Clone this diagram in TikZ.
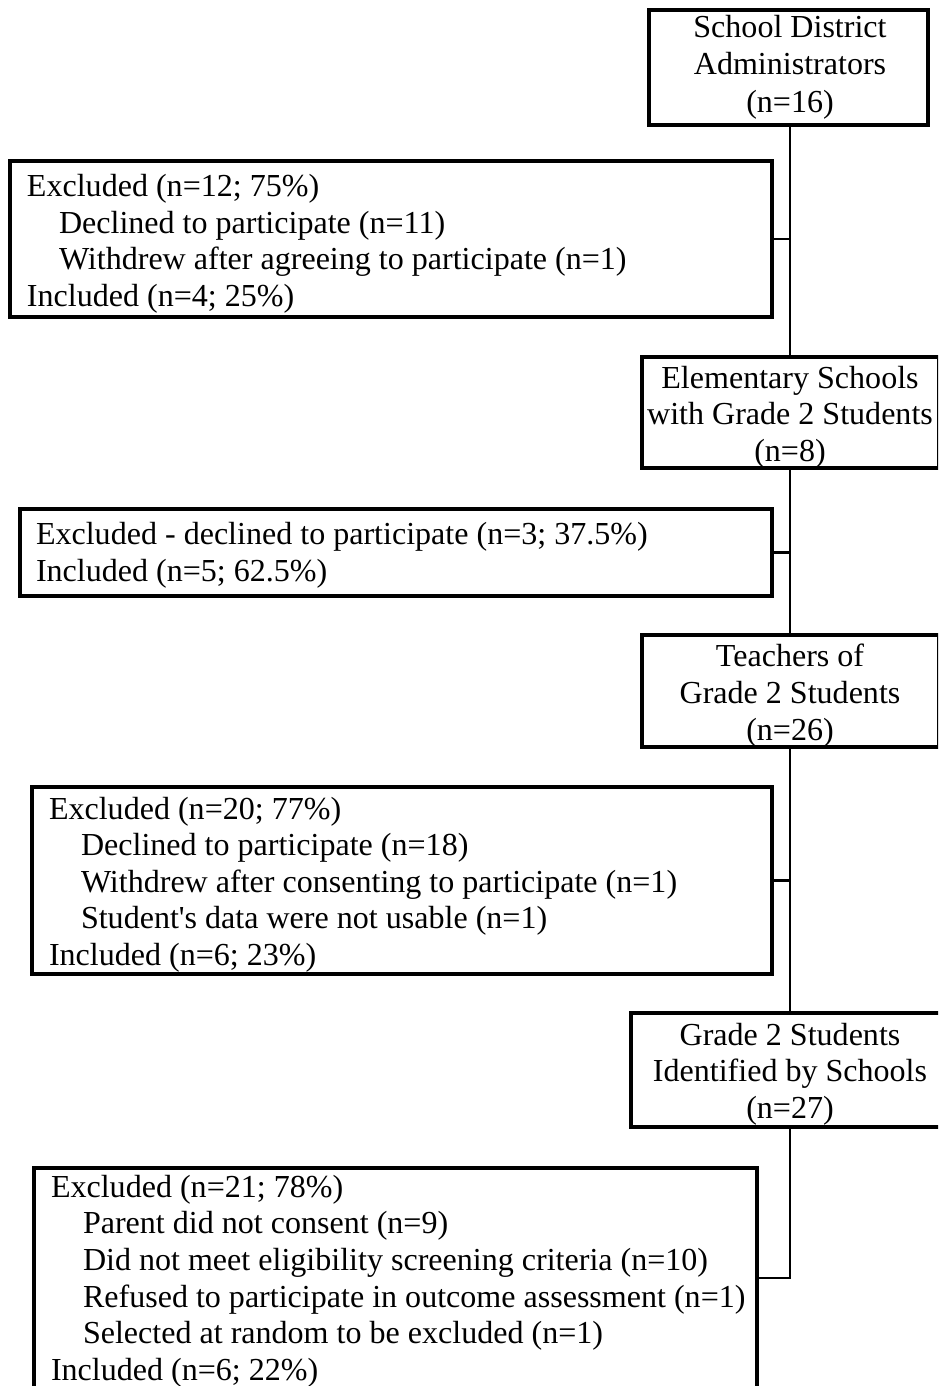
\documentclass[tikz,border=0pt]{standalone}
\usepackage{fontspec}
\setmainfont{Liberation Serif}[Ligatures=TeXOff]
\usetikzlibrary{fit}
\begin{document}
\begin{tikzpicture}[x=1pt,y=-1pt,
  box/.style={draw, line width=4pt, inner sep=0pt, outer sep=0pt},
  conn/.style={line width=2.4pt},
  txt/.style={inner sep=0pt, outer sep=0pt, font=\fontsize{32.05}{36.7}\selectfont},
  ctr/.style={txt, anchor=base},
  lft/.style={txt, anchor=base west}]
\useasboundingbox (0,0) rectangle (938,1386);
\clip (0,0) rectangle (938,1386);

% stage boxes on the right
\node[box, fit={(649,10) (928,125)}] (admin) {};
\node[box, fit={(641.5,357) (939,468)}] (schools) {};
\node[box, fit={(641.5,635) (939,747)}] (teachers) {};
\node[box, fit={(631,1013) (950,1127)}] (students) {};

% exclusion boxes on the left
\node[box, fit={(10,161) (772,317)}] (ex1) {};
\node[box, fit={(20,509) (772,596)}] (ex2) {};
\node[box, fit={(32,787) (772,974)}] (ex3) {};
\node[box, fit={(34,1168) (757,1388)}] (ex4) {};

% main flow line and branches
\coordinate (spine) at (790,0);
\draw[conn] (admin.south -| spine) -- (schools.north -| spine);
\draw[conn] (schools.south -| spine) -- (teachers.north -| spine);
\draw[conn] (teachers.south -| spine) -- (students.north -| spine);
\draw[conn] (students.south -| spine) -- (spine |- ex4.east) -- (ex4.east);
\draw[conn] (spine |- ex1.east) -- (ex1.east);
\draw[conn] (spine |- ex2.east) -- (ex2.east);
\draw[conn] (spine |- ex3.east) -- (ex3.east);

% stage labels
\node[ctr] (admin-1) at (790,37.5) {School District};
\node[ctr] (admin-2) at (790,74.8) {Administrators};
\node[ctr] (admin-3) at (790,112.2) {(n=16)};

\node[ctr] (schools-1) at (790,388.3) {Elementary Schools};
\node[ctr] (schools-2) at (790,424.8) {with Grade 2 Students};
\node[ctr] (schools-3) at (790,461) {(n=8)};

\node[ctr] (teachers-1) at (790,666.7) {Teachers of};
\node[ctr] (teachers-2) at (790,703.3) {Grade 2 Students};
\node[ctr] (teachers-3) at (790,740) {(n=26)};

\node[ctr] (students-1) at (790,1045) {Grade 2 Students};
\node[ctr] (students-2) at (790,1081.7) {Identified by Schools};
\node[ctr] (students-3) at (790,1118.3) {(n=27)};

% exclusion details
\node[lft] (ex1-1) at (27,196.5) {Excluded (n=12; 75\%)};
\node[lft] (ex1-2) at (59,233.2) {Declined to participate (n=11)};
\node[lft] (ex1-3) at (59,269.9) {Withdrew after agreeing to participate (n=1)};
\node[lft] (ex1-4) at (27,306.6) {Included (n=4; 25\%)};

\node[lft] (ex2-1) at (36,544) {Excluded - declined to participate (n=3; 37.5\%)};
\node[lft] (ex2-2) at (36,581) {Included (n=5; 62.5\%)};

\node[lft] (ex3-1) at (49,819) {Excluded (n=20; 77\%)};
\node[lft] (ex3-2) at (81,855.5) {Declined to participate (n=18)};
\node[lft] (ex3-3) at (81,892) {Withdrew after consenting to participate (n=1)};
\node[lft] (ex3-4) at (81,928.5) {Student's data were not usable (n=1)};
\node[lft] (ex3-5) at (49,965) {Included (n=6; 23\%)};

\node[lft] (ex4-1) at (51,1197.3) {Excluded (n=21; 78\%)};
\node[lft] (ex4-2) at (83,1233.9) {Parent did not consent (n=9)};
\node[lft] (ex4-3) at (83,1270.5) {Did not meet eligibility screening criteria (n=10)};
\node[lft] (ex4-4) at (83,1307) {Refused to participate in outcome assessment (n=1)};
\node[lft] (ex4-5) at (83,1343.6) {Selected at random to be excluded (n=1)};
\node[lft] (ex4-6) at (51,1380.2) {Included (n=6; 22\%)};
\end{tikzpicture}
\end{document}
